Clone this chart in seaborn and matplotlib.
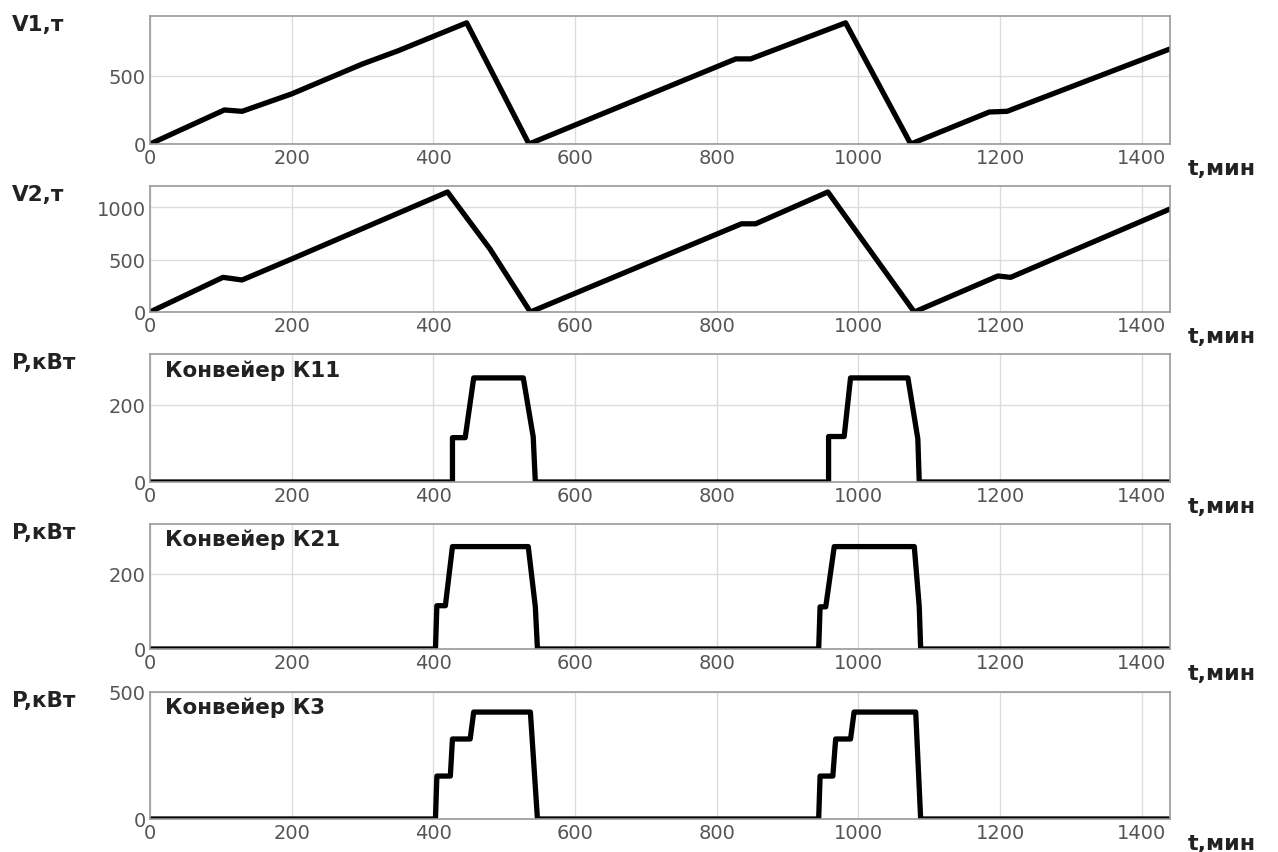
import matplotlib
matplotlib.use("Agg")
import matplotlib.pyplot as plt
import seaborn as sns
import pandas as pd

# V1, V2 - storage levels, t
t_v1 = [0, 105, 130, 200, 300, 350, 447, 535, 827, 848, 982, 1074, 1185, 1210, 1440]
v1 = [0, 250, 240, 368, 588, 684, 890, 0, 625, 625, 890, 0, 235, 240, 698]

t_v2 = [0, 103, 130, 200, 420, 480, 537, 835, 855, 957, 1079, 1197, 1215, 1440]
v2 = [0, 330, 305, 505, 1143, 600, 0, 840, 840, 1143, 0, 343, 330, 981]

# conveyor power, kW
t_k11 = [0, 427, 427, 445, 457, 527, 541, 544, 958, 958, 980, 989, 1070, 1084, 1086, 1440]
p_k11 = [0, 0, 115, 115, 270, 270, 117, 0, 0, 118, 118, 270, 270, 112, 0, 0]

t_k21 = [0, 403, 405, 417, 427, 534, 544, 547, 944, 946, 954, 966, 1079, 1086, 1088, 1440]
p_k21 = [0, 0, 115, 115, 272, 272, 112, 0, 0, 112, 112, 272, 272, 112, 0, 0]

t_k3 = [0, 403, 405, 424, 427, 452, 457, 537, 547, 944, 946, 964, 968, 989, 994, 1081, 1088, 1440]
p_k3 = [0, 0, 169, 169, 315, 315, 421, 421, 0, 0, 169, 169, 315, 315, 421, 421, 0, 0]

x_ticks = [0, 200, 400, 600, 800, 1000, 1200, 1400]

panels = [
    (t_v1, v1, "V1,т", None, [0, 500], 940),
    (t_v2, v2, "V2,т", None, [0, 500, 1000], 1200),
    (t_k11, p_k11, "P,кВт", "Конвейер К11", [0, 200], 332),
    (t_k21, p_k21, "P,кВт", "Конвейер К21", [0, 200], 332),
    (t_k3, p_k3, "P,кВт", "Конвейер К3", [0, 500], 500),
]

# pixel boxes (top, bottom) of each axes in the 1278x853 picture
boxes = [(17, 145), (187, 313), (355, 483), (525, 650), (693, 820)]

sns.set_style("white")
plt.rcParams['font.family'] = ['DejaVu Sans']

W, H = 1278, 853
fig = plt.figure(figsize=(W / 100, H / 100), dpi=100)

left, right = 150, 1170
for (t, y, ylab, title, yt, ytop), (top, bot) in zip(panels, boxes):
    ax = fig.add_axes([left / W, 1 - bot / H, (right - left) / W, (bot - top) / H])
    df = pd.DataFrame({"t": t, "y": y})
    sns.lineplot(data=df, x="t", y="y", ax=ax, color="black", linewidth=3.8,
                 sort=False, estimator=None)
    ax.set_xlim(0, 1440)
    ax.set_ylim(0, ytop)
    ax.set_xticks(x_ticks)
    ax.set_yticks(yt)
    ax.set_xlabel("")
    ax.set_ylabel("")
    ax.grid(True, color="#dcdcdc", linewidth=1.0)
    ax.set_axisbelow(True)
    for s in ax.spines.values():
        s.set_color("#999999")
        s.set_linewidth(1.2)
    ax.tick_params(direction="in", length=4, color="#999999", labelsize=14,
                   labelcolor="#555555", pad=3)
    fig.text(12 / W, 1 - (top + 8) / H, ylab, fontsize=15.5, fontweight="bold",
             color="#222222", ha="left", va="center")
    fig.text(1188 / W, 1 - (bot + 24) / H, "t,мин", fontsize=16, fontweight="bold",
             color="#222222", ha="left", va="center")
    if title:
        ax.text(0.015, 0.88, title, transform=ax.transAxes, fontsize=15.5,
                fontweight="bold", color="#222222", ha="left", va="center")

fig.savefig("out.png", dpi=100)
